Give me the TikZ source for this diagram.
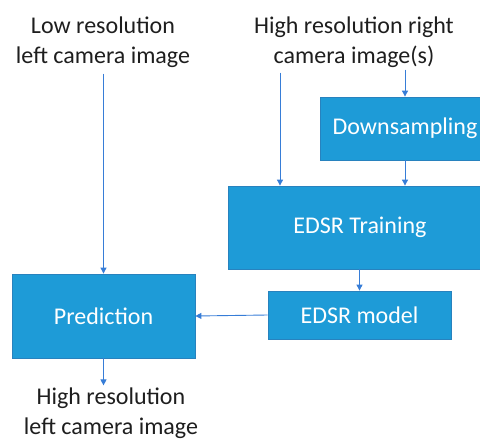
\documentclass[tikz,border=0pt]{standalone}
\usepackage{fontspec}
\setmainfont{Carlito}
\usetikzlibrary{arrows.meta}
\definecolor{boxblue}{RGB}{30,155,215}
\definecolor{boxedge}{RGB}{40,130,190}
\definecolor{linkblue}{RGB}{55,125,215}
\definecolor{labelgray}{RGB}{30,30,30}
\tikzset{
        % Process boxes
        node_box/.style={rectangle, draw=boxedge, fill=boxblue, text=white, line width=0.8pt,
                         font=\fontsize{24}{30}\selectfont, inner sep=0pt},
        % Input and output labels
        node_label/.style={align=center, text=labelgray, font=\fontsize{24}{30}\selectfont, inner sep=2pt},
        % Connectors
        flow/.style={draw=linkblue, line width=0.9pt, -{Triangle[width=6pt,length=6pt]}}
}
\begin{document}
\begin{tikzpicture}[x=1pt, y=-1pt]
            \useasboundingbox (0,0) rectangle (480,439);
            \clip (0,0) rectangle (480,439);
            \node[node_label] (lowin) at (103,42) {Low resolution\\left camera image};
            \node[node_label] (highin) at (354,42) {High resolution right\\camera image(s)};
            \node[node_label] (hiout) at (111,413) {High resolution\\left camera image};
            \node[node_box, minimum width=170pt, minimum height=63pt] (down) at (405,128.5) {Downsampling};
            \node[node_box, minimum width=264pt, minimum height=83pt] (train) at (360,227.5) {EDSR Training};
            \node[node_box, minimum width=183pt, minimum height=84pt] (pred) at (103.5,316) {Prediction};
            \node[node_box, minimum width=183pt, minimum height=48pt] (model) at (359.5,315) {EDSR model};
            \draw[flow] ([yshift=-4pt]lowin.south -| pred.north) -- (pred.north);
            \draw[flow] ([xshift=-74pt,yshift=-3pt]highin.south) -- ([xshift=-80pt]train.north);
            \draw[flow] (highin.south -| down.north) -- (down.north);
            \draw[flow] (down.south) -- (down.south |- train.north);
            \draw[flow] (train.south -| model.north) -- (model.north);
            \draw[flow] (model.west) -- (pred.east);
            \draw[flow] (pred.south) -- (pred.south |- hiout.north);
        \end{tikzpicture}
\end{document}
